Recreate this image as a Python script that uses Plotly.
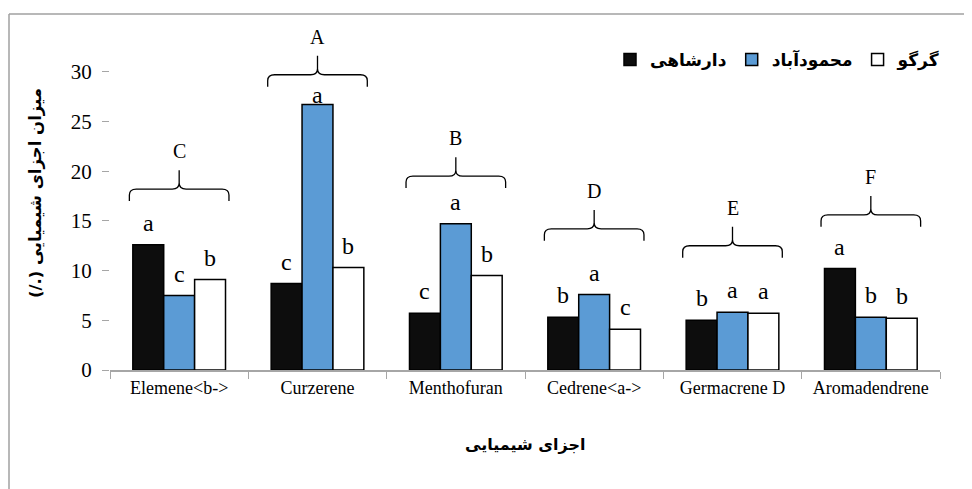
import plotly.graph_objects as go

# ---------------- data ----------------
categories = ["Elemene<b->", "Curzerene", "Menthofuran", "Cedrene<a->", "Germacrene D", "Aromadendrene"]
series_names = ["دارشاهی", "محمودآباد", "گرگو"]
darshahi = [12.6, 8.7, 5.7, 5.3, 5.0, 10.2]
mahmoudabad = [7.5, 26.7, 14.7, 7.6, 5.8, 5.3]
gorgo = [9.1, 10.3, 9.5, 4.1, 5.7, 5.2]
letters_darshahi = ["a", "c", "c", "b", "b", "a"]
letters_mahmoudabad = ["c", "a", "a", "a", "a", "b"]
letters_gorgo = ["b", "b", "b", "c", "a", "b"]
group_letters = ["C", "A", "B", "D", "E", "F"]
brace_levels = [17.0, 28.5, 18.3, 13.0, 11.3, 14.4]
y_ticks = [0, 5, 10, 15, 20, 25, 30]
y_title = "(/.) میزان اجزای شیمیایی"
x_title = "اجزای شیمیایی"

# ---------------- styling ----------------
W, H = 972, 489
OFF = 8  # page body margin: figure origin sits at (8, 8) in the window
ML, MR, MT, MB = 110 - OFF, 32 + OFF, 32 - OFF, 119 + OFF
SERIF = "Liberation Serif, Times New Roman, serif"
FA = "DejaVu Sans, sans-serif"
colors = ["#0d0d0d", "#5b9bd5", "#ffffff"]
AXIS_GRAY = "#a6a6a6"
BARGAP = 0.33

def esc(s):
    return s.replace("<", "&lt;").replace(">", "&gt;")

xcats = [esc(c) for c in categories]
series = [darshahi, mahmoudabad, gorgo]
letters = [letters_darshahi, letters_mahmoudabad, letters_gorgo]

fig = go.Figure()
for name, vals, col in zip(series_names, series, colors):
    fig.add_trace(go.Bar(
        x=xcats, y=vals, name=name,
        marker=dict(color=col, line=dict(color="#000000", width=1.5)),
    ))
# helper (empty) trace so the numeric overlay axis exists
fig.add_trace(go.Scatter(x=[], y=[], xaxis="x2", yaxis="y", showlegend=False, hoverinfo="skip"))

bw = (1 - BARGAP) / 3
annotations = []
shapes = []
for i in range(len(categories)):
    base = brace_levels[i]
    for j in range(3):
        v = series[j][i]
        yc = min(v + 2.2, base - 0.8)
        annotations.append(dict(
            x=i + (j - 1) * bw, y=yc, xref="x2", yref="y",
            text=letters[j][i], showarrow=False, xanchor="center", yanchor="middle",
            font=dict(family=SERIF, size=24, color="#000000"),
        ))
    # curly brace above the group
    c = i
    w = 0.36
    rx, ry = 0.05, 0.6
    x0, x1 = c - w, c + w
    yb, yh, yt = base, base + 1.2, base + 3.1
    path = (f"M{x0},{yb} L{x0},{yh - ry} Q{x0},{yh} {x0 + rx},{yh} L{c - rx},{yh} "
            f"Q{c},{yh} {c},{yh + ry} L{c},{yt} "
            f"M{c},{yh + ry} Q{c},{yh} {c + rx},{yh} L{x1 - rx},{yh} "
            f"Q{x1},{yh} {x1},{yh - ry} L{x1},{yb}")
    shapes.append(dict(type="path", path=path, xref="x2", yref="y",
                       line=dict(color="#000000", width=1.3)))
    annotations.append(dict(
        x=c, y=base + 5.0, xref="x2", yref="y", text=group_letters[i],
        showarrow=False, xanchor="center", yanchor="middle",
        font=dict(family=SERIF, size=20, color="#000000"),
    ))

pw = W - ML - MR
ph = H - MT - MB
# helpers: convert a position measured in the window (reference picture) to paper coords
def px2paper_x(px):
    return (px - OFF - ML) / pw
def px2paper_y(py):
    return (H - MB - (py - OFF)) / ph

# axis titles
annotations.append(dict(
    x=px2paper_x(36), y=px2paper_y(193), xref="paper", yref="paper",
    text=y_title, textangle=-90, showarrow=False, xanchor="center", yanchor="middle",
    font=dict(family=FA, size=16.5, color="#000000", weight="bold"),
))
annotations.append(dict(
    x=px2paper_x(525), y=px2paper_y(445), xref="paper", yref="paper",
    text=x_title, showarrow=False, xanchor="center", yanchor="middle",
    font=dict(family=FA, size=16, color="#000000", weight="bold"),
))

# outer chart border (left and top edges visible)
shapes.append(dict(type="line", xref="paper", yref="paper",
                   x0=px2paper_x(9), x1=px2paper_x(W + 20),
                   y0=px2paper_y(14), y1=px2paper_y(14),
                   line=dict(color="#a0a0a0", width=1.5)))
shapes.append(dict(type="line", xref="paper", yref="paper",
                   x0=px2paper_x(9), x1=px2paper_x(9),
                   y0=px2paper_y(14), y1=px2paper_y(H + 20),
                   line=dict(color="#a0a0a0", width=1.5)))

fig.update_layout(
    width=W, height=H,
    margin=dict(l=ML, r=MR, t=MT, b=MB, autoexpand=False),
    paper_bgcolor="#ffffff", plot_bgcolor="#ffffff",
    barmode="group", bargap=BARGAP, bargroupgap=0,
    showlegend=True,
    legend=dict(
        orientation="h", x=px2paper_x(610), y=px2paper_y(60),
        xanchor="left", yanchor="middle",
        font=dict(family=FA, size=17, color="#000000", weight="bold"),
        bgcolor="rgba(0,0,0,0)", traceorder="normal",
    ),
    xaxis=dict(
        type="category", range=[-0.5, 5.5],
        showline=True, linecolor=AXIS_GRAY, linewidth=1.8,
        ticks="outside", tickson="boundaries", ticklen=7, tickcolor=AXIS_GRAY, tickwidth=1,
        tickfont=dict(family=SERIF, size=18, color="#000000"),
        showgrid=False, zeroline=False,
    ),
    xaxis2=dict(
        overlaying="x", anchor="y", range=[-0.5, 5.5], visible=False,
    ),
    yaxis=dict(
        range=[0, 34], tickvals=y_ticks, showline=False,
        ticks="outside", ticklen=7, tickcolor=AXIS_GRAY, tickwidth=1,
        ticklabelstandoff=6,
        tickfont=dict(family=SERIF, size=21, color="#000000"),
        showgrid=False, zeroline=False,
    ),
    annotations=annotations,
    shapes=shapes,
)

fig.write_html("out.html")
